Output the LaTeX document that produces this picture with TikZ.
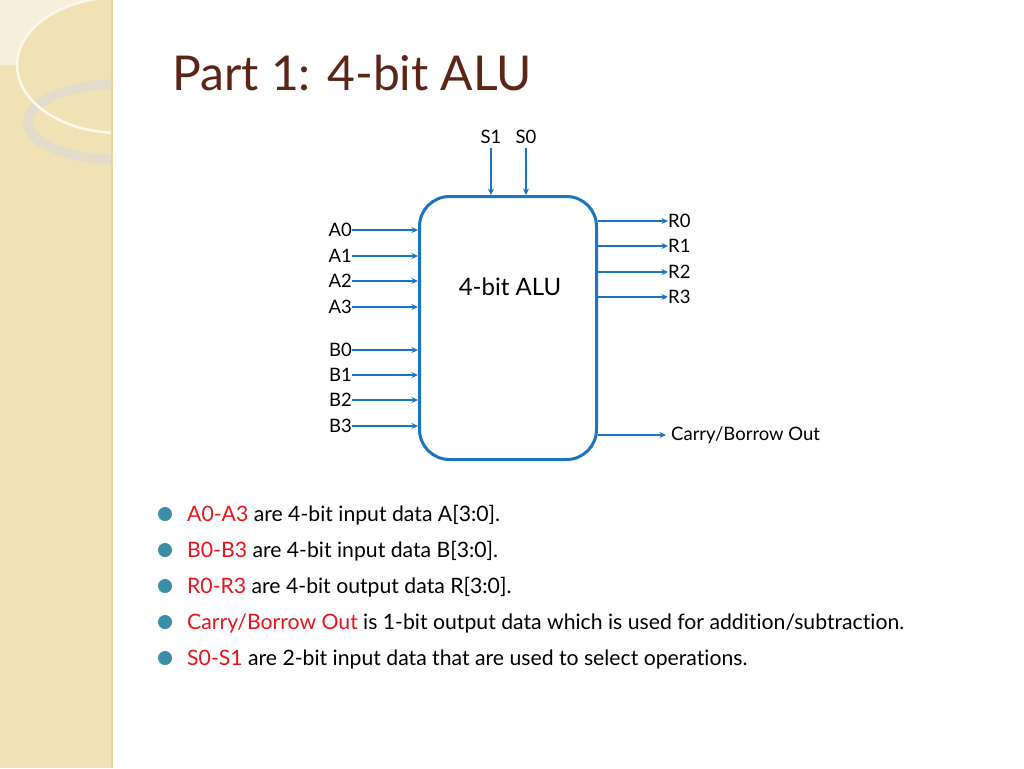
\documentclass[tikz,border=0pt]{standalone}
\usepackage{fontspec}
\setmainfont{Lato}[Ligatures=NoCommon]
\usepackage{xcolor}
\usepackage{tikz}
\usetikzlibrary{arrows.meta,positioning,calc}

\definecolor{alublue}{HTML}{1B75C4}
\definecolor{titlebrown}{HTML}{5C2516}
\definecolor{keyred}{HTML}{E8141C}
\definecolor{dotteal}{HTML}{3B8EA5}
\definecolor{stripbase}{HTML}{F1E2B5}
\definecolor{striplight}{HTML}{F6EFDC}
\definecolor{ringgray}{HTML}{E4DCCB}

\begin{document}
\begin{tikzpicture}[x=1pt, y=-1pt,
    alubox/.style={rectangle, draw=alublue, line width=3pt, rounded corners=30pt,
        minimum width=177pt, minimum height=263pt, inner sep=0pt},
    pin/.style={inner sep=0pt, font=\fontsize{18.5}{21}\selectfont},
    sig/.style={draw=alublue, line width=1.5pt, -{Stealth[length=6.5pt, width=6pt]}},
    dot/.style={circle, fill=dotteal, minimum size=14pt, inner sep=0pt},
    item/.style={anchor=base west, inner sep=0pt, font=\fontsize{21.2}{25}\selectfont},
    key/.style={text=keyred}
]
    \useasboundingbox (0,0) rectangle (1024,768);
    \fill[white] (0,0) rectangle (1024,768);

    % decorative strip on the left
    \begin{scope}
        \clip (0,0) rectangle (113,768);
        \fill[stripbase] (0,0) rectangle (113,768);
        \fill[striplight] (0,0) -- (90,0) arc[start angle=-107, end angle=-180,
            x radius=103, y radius=68] -- (0,65) -- cycle;
        \draw[ringgray, line width=10pt] (120,122) ellipse [x radius=92, y radius=38];
        \draw[white!75!stripbase, line width=2.5pt] (120,65) ellipse [x radius=103, y radius=68];
        \draw[stripbase!85!brown, line width=2pt] (112,0) -- (112,768);
    \end{scope}

    \node[anchor=base west, inner sep=0pt, text=titlebrown,
        font=\fontsize{48}{56}\selectfont] (title) at (172,90) {Part 1: 4-bit ALU};

    % the ALU block
    \node[alubox] (alu) at (508,328) {};
    \node[font=\fontsize{24}{27}\selectfont] (alutxt) at (510,287) {4-bit ALU};

    % select inputs
    \node[pin] (s1) at (491,137) {S1};
    \node[pin] (s0) at (526,137) {S0};
    \draw[sig] ([yshift=-4pt]s1.south) -- (s1.south |- alu.north);
    \draw[sig] ([yshift=-4pt]s0.south) -- (s0.south |- alu.north);

    % data inputs
    \node[pin, anchor=east] (a0) at (352,230) {A0};
    \node[pin, anchor=east] (a1) at (352,256) {A1};
    \node[pin, anchor=east] (a2) at (352,281) {A2};
    \node[pin, anchor=east] (a3) at (352,307) {A3};
    \node[pin, anchor=east] (b0) at (352,350) {B0};
    \node[pin, anchor=east] (b1) at (352,375) {B1};
    \node[pin, anchor=east] (b2) at (352,400) {B2};
    \node[pin, anchor=east] (b3) at (352,426) {B3};

    \draw[sig] (a0) -- (a0 -| alu.west);
    \draw[sig] (a1) -- (a1 -| alu.west);
    \draw[sig] (a2) -- (a2 -| alu.west);
    \draw[sig] (a3) -- (a3 -| alu.west);
    \draw[sig] (b0) -- (b0 -| alu.west);
    \draw[sig] (b1) -- (b1 -| alu.west);
    \draw[sig] (b2) -- (b2 -| alu.west);
    \draw[sig] (b3) -- (b3 -| alu.west);

    % outputs
    \node[pin, anchor=west] (r0) at (668,221) {R0};
    \node[pin, anchor=west] (r1) at (668,246) {R1};
    \node[pin, anchor=west] (r2) at (668,272) {R2};
    \node[pin, anchor=west] (r3) at (668,297) {R3};
    \node[pin, anchor=west] (cout) at (671,435) {Carry/Borrow Out};

    \draw[sig] (r0 -| alu.east) -- (r0);
    \draw[sig] (r1 -| alu.east) -- (r1);
    \draw[sig] (r2 -| alu.east) -- (r2);
    \draw[sig] (r3 -| alu.east) -- (r3);
    \draw[sig] (cout -| alu.east) -- ([xshift=-5pt]cout.west);

    % notes
    \node[dot] (d1) at (165,514) {};
    \node[dot] (d2) at (165,550) {};
    \node[dot] (d3) at (165,586) {};
    \node[dot] (d4) at (165,622) {};
    \node[dot] (d5) at (165,658) {};
    \node[item] (n1) at (187,521) {\textcolor{keyred}{A0-A3} are 4-bit input data A[3:0].};
    \node[item] (n2) at (187,557) {\textcolor{keyred}{B0-B3} are 4-bit input data B[3:0].};
    \node[item] (n3) at (187,593) {\textcolor{keyred}{R0-R3} are 4-bit output data R[3:0].};
    \node[item] (n4) at (187,629) {\textcolor{keyred}{Carry/Borrow Out} is 1-bit output data which is used for addition/subtraction.};
    \node[item] (n5) at (187,665) {\textcolor{keyred}{S0-S1} are 2-bit input data that are used to select operations.};
\end{tikzpicture}
\end{document}
